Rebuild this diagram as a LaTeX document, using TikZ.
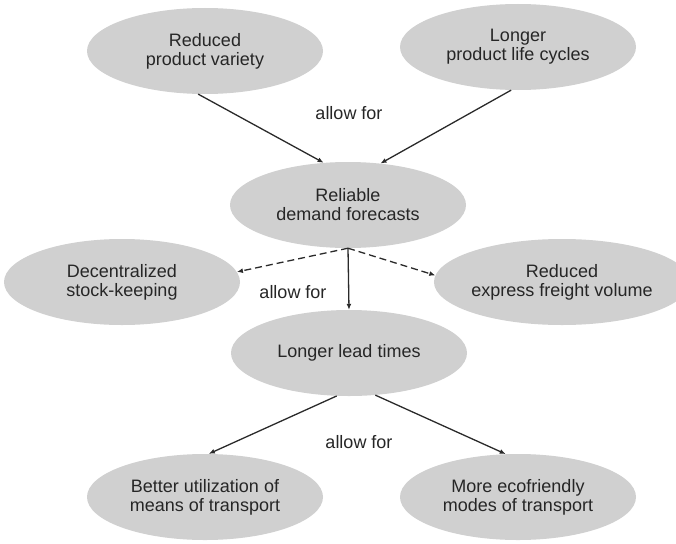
\documentclass[tikz,border=0pt]{standalone}
\usepackage{fontspec}
\setmainfont{Liberation Sans}
\usepackage{xcolor}
\usetikzlibrary{arrows.meta,shapes.geometric}
\definecolor{bubfill}{HTML}{D0D0D0}
\definecolor{bubink}{HTML}{262626}
\definecolor{arrink}{HTML}{2A2A2A}

\begin{document}
\begin{tikzpicture}[x=1pt, y=-1pt, >={Latex[length=6pt,width=5pt]},
  bub/.style={ellipse, fill=bubfill, minimum width=236pt, minimum height=86pt, inner sep=0pt, align=center, text=bubink, font=\fontsize{18}{19}\selectfont},
  wide/.style={minimum width=224pt},
  m/.style={->, arrink, line width=1.3pt},
  md/.style={m, dash pattern=on 7pt off 4pt},
  lbl/.style={text=bubink, font=\fontsize{18}{19}\selectfont}]
  \useasboundingbox (0,0) rectangle (676,543);
  % ---------- bubbles ----------
  \foreach \x/\y/\n/\t in {205/51/rpv/Reduced\\product variety, 518/47/lpc/Longer\\product life cycles, 348/205/rdf/Reliable\\demand forecasts, 122/282/dsk/Decentralized\\stock-keeping, 349/353/llt/Longer lead times, 205/497/bum/Better utilization of\\means of transport, 518/497/mef/More ecofriendly\\modes of transport}
    \node[bub] (\n) at (\x,\y) {\t};
  \node[bub, wide] (rev) at (562,282) {Reduced\\express freight volume};
  % ---------- labels ----------
  \node[lbl] (af1) at (349,113) {allow for};
  \node[lbl] (af2) at (293,292) {allow for};
  \node[lbl] (af3) at (359,442) {allow for};
  % ---------- arrows ----------
  \draw[m] (rpv.-99) -- (rdf.120);
  \draw[m] (lpc.-99) -- (rdf.52);
  \draw[md] (rdf.south) -- (dsk.5);
  \draw[md] (rdf.south) -- (rev.177);
  \draw[m] (rdf.south) -- (llt.north);
  \draw[m] (llt.-106) -- (bum.85);
  \draw[m] (llt.-58) -- (mef.106);
\end{tikzpicture}
\end{document}
